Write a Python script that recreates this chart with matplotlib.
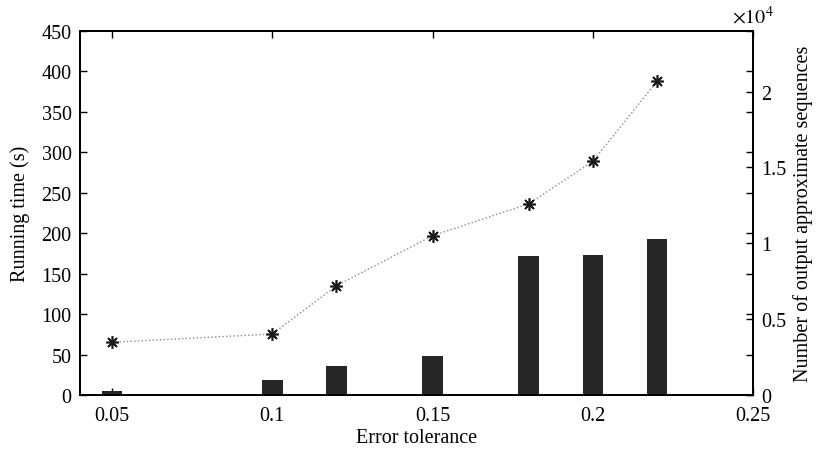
import matplotlib.pyplot as plt
from matplotlib.ticker import FuncFormatter

plt.rcParams['font.family'] = ['Liberation Serif', 'DejaVu Serif']
plt.rcParams['mathtext.fontset'] = 'stix'

# error tolerance values
tolerance = [0.05, 0.1, 0.12, 0.15, 0.18, 0.2, 0.22]
# running time (s) -> bars, left axis
run_time = [4.6, 18.2, 35.5, 48.2, 171.5, 173.0, 193.0]
# number of output approximate sequences -> stars, right axis
num_seq = [3470, 4020, 7200, 10500, 12600, 15400, 20670]

fig = plt.figure(figsize=(8.17, 4.52), dpi=100)
ax = fig.add_axes([0.098, 0.124, 0.8237, 0.8053])
ax2 = ax.twinx()

ax.bar(tolerance, run_time, width=0.0064, color='#262626', zorder=2)
ax2.plot(tolerance, num_seq, linestyle=':', color='#8a8a8a', linewidth=1.0)
# matlab style asterisk
ax2.plot(tolerance, num_seq, linestyle='none', marker=(8, 2, 0), color='#1a1a1a',
         markersize=9, markeredgewidth=1.2)

ax.set_xlim(0.04, 0.25)
ax.set_ylim(0, 450)
ax.set_xticks([0.05, 0.1, 0.15, 0.2, 0.25])
ax.set_xticklabels(['0.05', '0.1', '0.15', '0.2', '0.25'])
ax.set_yticks(range(0, 451, 50))
ax2.set_ylim(0, 24000)
ax2.set_yticks([0, 5000, 10000, 15000, 20000])
ax2.yaxis.set_major_formatter(FuncFormatter(lambda v, p: '%g' % (v / 1e4)))

fs = 14.5
ax.tick_params(direction='in', length=5, width=1, labelsize=fs, top=True, right=True, pad=6)
ax.tick_params(axis='x', pad=8)
ax2.tick_params(direction='in', length=5, width=1, labelsize=fs, pad=6)
for a in (ax, ax2):
    for s in a.spines.values():
        s.set_linewidth(1.3)

ax.set_xlabel('Error tolerance', fontsize=fs, labelpad=2)
ax.set_ylabel('Running time (s)', fontsize=fs, labelpad=8)
ax2.set_ylabel('Number of output approximate sequences', fontsize=fs, labelpad=5)
ax2.text(1.0, 1.01, r'$\times10^4$', transform=ax2.transAxes, fontsize=fs,
         ha='center', va='bottom')

fig.savefig('out.png', dpi=100)
